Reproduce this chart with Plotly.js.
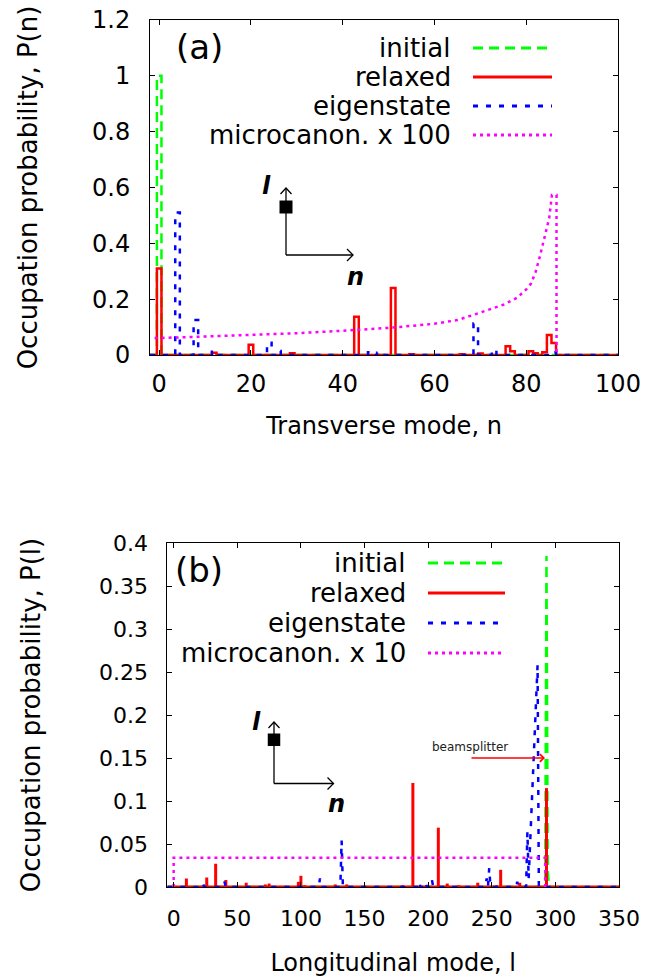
<!DOCTYPE html>
<html>
<head>
<meta charset="utf-8">
<script src="https://cdn.plot.ly/plotly-3.0.1.min.js"></script>
<style>html,body{margin:0;padding:0;background:#fff;}#chart{width:663px;height:977px;}</style>
</head>
<body>
<div id="chart"></div>
<script>
// ---------- Panel (a): transverse mode n ----------
const nInitial = [0];
const pInitialN = [1.0];
const nRelaxed = [0, 12, 20, 29, 43, 51, 55, 66, 70, 76, 77, 81, 82, 84, 85, 86];
const pRelaxedN = [0.31, 0.008, 0.037, 0.006, 0.137, 0.24, 0.003, 0.003, 0.005, 0.031, 0.013, 0.013, 0.006, 0.01, 0.072, 0.043];
const nEigen = [4, 8, 12, 24, 26, 46, 48, 69, 73, 86];
const pEigenN = [0.51, 0.125, 0.012, 0.044, 0.014, 0.01, 0.008, 0.113, 0.018, 0.01];
const nMicro = [-1, 0, 10, 20, 30, 40, 50, 60, 65, 70, 75, 78, 80, 81, 82, 83, 84, 85, 85.6, 86.6, 86.6];
const pMicroN = [0.060, 0.061, 0.066, 0.071, 0.078, 0.087, 0.097, 0.112, 0.125, 0.152, 0.180, 0.205, 0.235, 0.255, 0.295, 0.355, 0.42, 0.49, 0.573, 0.573, 0];
const nTicks = [0, 20, 40, 60, 80, 100];

// ---------- Panel (b): longitudinal mode l ----------
const lInitial = [-5, 292, 293, 294, 295, 350];
const pInitialL = [0, 0, 0.385, 0.018, 0, 0];
const lRelaxed = [10, 26, 33, 41, 57, 72, 75, 98, 100, 103, 127, 136, 180, 188, 208, 215, 224, 239, 254, 257, 272, 293];
const pRelaxedL = [0.010, 0.011, 0.027, 0.008, 0.005, 0.003, 0.004, 0.006, 0.013, 0.002, 0.003, 0.003, 0.002, 0.121, 0.069, 0.004, 0.002, 0.005, 0.002, 0.020, 0.005, 0.115];
const lEigen = [-5, 22, 23, 24, 39, 40, 41, 114, 115, 116, 131, 132, 133, 192, 193, 194, 197, 198, 199, 202, 203, 204, 245, 246, 247, 248, 249, 269, 270, 271, 277, 278, 279, 286, 287, 350];
const pEigenL = [0, 0, 0.004, 0, 0, 0.006, 0, 0, 0.010, 0, 0, 0.054, 0, 0, 0.006, 0, 0, 0.005, 0, 0, 0.008, 0, 0, 0.010, 0, 0.022, 0, 0, 0.006, 0, 0, 0.064, 0.010, 0.258, 0, 0];
const lMicro = [0, 0, 292, 292];
const pMicroL = [0, 0.034, 0.034, 0];
const lTicks = [0, 50, 100, 150, 200, 250, 300, 350];

// ---------- helpers ----------
const W = 663, H = 977;
const px = x => x / W;
const py = y => 1 - y / H;
const FONT = 'DejaVu Sans, Liberation Sans, Arial, sans-serif';
const C = {init: '#00ff00', rel: '#ff0000', eig: '#0000ff', mic: '#ff00ff'};
const DASH = {init: '10px,6px', rel: 'solid', eig: '5px,8px', mic: '3px,4px'};

function histSeries(ns, ps, nMin, nMax) {
  const m = {};
  ns.forEach((n, i) => { m[n] = ps[i]; });
  const xs = [], ys = [];
  for (let n = nMin; n <= nMax; n++) { xs.push(n); ys.push(m[n] !== undefined ? m[n] : 0); }
  return {x: xs, y: ys};
}
function impulses(ls, ps, base) {
  const x = [base[0], base[1], null], y = [0, 0, null];
  ls.forEach((l, i) => { x.push(l, l, null); y.push(0, ps[i], null); });
  return {x, y};
}

const X1 = [-2, 100], X2 = [-5, 350];
const hInit = histSeries(nInitial, pInitialN, -2, 100);
const hRel = histSeries(nRelaxed, pRelaxedN, -2, 100);
const hEig = histSeries(nEigen, pEigenN, -2, 100);
const impRel = impulses(lRelaxed, pRelaxedL, X2);

const traces = [
  {x: hInit.x, y: hInit.y, type: 'scatter', mode: 'lines', line: {shape: 'hvh', color: C.init, width: 2.5, dash: DASH.init}, name: 'initial', xaxis: 'x', yaxis: 'y'},
  {x: hRel.x, y: hRel.y, type: 'scatter', mode: 'lines', line: {shape: 'hvh', color: C.rel, width: 2.5}, name: 'relaxed', xaxis: 'x', yaxis: 'y'},
  {x: hEig.x, y: hEig.y, type: 'scatter', mode: 'lines', line: {shape: 'hvh', color: C.eig, width: 2.5, dash: DASH.eig}, name: 'eigenstate', xaxis: 'x', yaxis: 'y'},
  {x: nMicro, y: pMicroN, type: 'scatter', mode: 'lines', line: {color: C.mic, width: 2.5, dash: DASH.mic}, name: 'microcanon. x 100', xaxis: 'x', yaxis: 'y'},

  {x: lInitial, y: pInitialL, type: 'scatter', mode: 'lines', line: {color: C.init, width: 2.5, dash: DASH.init}, name: 'initial', xaxis: 'x2', yaxis: 'y2'},
  {x: impRel.x, y: impRel.y, type: 'scatter', mode: 'lines', connectgaps: false, line: {color: C.rel, width: 3}, name: 'relaxed', xaxis: 'x2', yaxis: 'y2'},
  {x: lEigen, y: pEigenL, type: 'scatter', mode: 'lines', line: {color: C.eig, width: 2.5, dash: DASH.eig}, name: 'eigenstate', xaxis: 'x2', yaxis: 'y2'},
  {x: lMicro, y: pMicroL, type: 'scatter', mode: 'lines', line: {color: C.mic, width: 2.5, dash: DASH.mic}, name: 'microcanon. x 10', xaxis: 'x2', yaxis: 'y2'}
];

const axisCommon = {
  showline: true, linecolor: '#000', linewidth: 1, mirror: 'allticks',
  ticks: 'inside', ticklen: 5, tickcolor: '#000', tickwidth: 1,
  showgrid: false, zeroline: false, fixedrange: true
};

const layout = {
  width: W, height: H,
  margin: {l: 0, r: 0, t: 0, b: 0},
  paper_bgcolor: '#fff', plot_bgcolor: '#fff',
  showlegend: false,
  font: {family: FONT, color: '#000'},
  xaxis: Object.assign({}, axisCommon, {
    domain: [px(150), px(618)], anchor: 'y', range: X1,
    tickvals: nTicks, ticktext: nTicks.map(String),
    tickfont: {size: 24}, ticklabelstandoff: 7,
    title: {text: 'Transverse mode, n', font: {size: 24}, standoff: 20}
  }),
  yaxis: Object.assign({}, axisCommon, {
    domain: [py(355), py(20)], anchor: 'x', range: [0, 1.2], dtick: 0.2, tick0: 0,
    tickfont: {size: 24}, ticklabelstandoff: 14,
    title: {text: 'Occupation probability, P(n)', font: {size: 26}, standoff: 46}
  }),
  xaxis2: Object.assign({}, axisCommon, {
    domain: [px(167.3), px(619)], anchor: 'y2', range: X2,
    tickvals: lTicks, ticktext: lTicks.map(String),
    tickfont: {size: 22}, ticklabelstandoff: 12,
    title: {text: 'Longitudinal mode, l', font: {size: 24}, standoff: 23}
  }),
  yaxis2: Object.assign({}, axisCommon, {
    domain: [py(887), py(543)], anchor: 'x2', range: [0, 0.4], dtick: 0.05, tick0: 0,
    tickfont: {size: 22}, ticklabelstandoff: 14,
    title: {text: 'Occupation probability, P(l)', font: {size: 26}, standoff: 50}
  }),
  shapes: [],
  annotations: []
};

// manual legends (text right-aligned, sample line on the right)
const legendA = {labels: ['initial', 'relaxed', 'eigenstate', 'microcanon. x 100'], textRight: 453, x0: 473, x1: 552, rows: [48, 77, 106, 135]};
const legendB = {labels: ['initial', 'relaxed', 'eigenstate', 'microcanon. x 10'], textRight: 408, x0: 428, x1: 505, rows: [563, 593, 623, 653]};
const keys = ['init', 'rel', 'eig', 'mic'];
[legendA, legendB].forEach(lg => {
  lg.labels.forEach((t, i) => {
    layout.annotations.push({xref: 'paper', yref: 'paper', x: px(lg.textRight), y: py(lg.rows[i]), text: t, showarrow: false, xanchor: 'right', yanchor: 'middle', font: {size: 26, family: FONT}});
    layout.shapes.push({type: 'line', xref: 'paper', yref: 'paper', x0: px(lg.x0), x1: px(lg.x1), y0: py(lg.rows[i]), y1: py(lg.rows[i]), line: {color: C[keys[i]], width: 3, dash: DASH[keys[i]]}});
  });
});

// panel labels
layout.annotations.push({xref: 'paper', yref: 'paper', x: px(199), y: py(47), text: '(a)', showarrow: false, xanchor: 'center', yanchor: 'middle', font: {size: 34}});
layout.annotations.push({xref: 'paper', yref: 'paper', x: px(199), y: py(570), text: '(b)', showarrow: false, xanchor: 'center', yanchor: 'middle', font: {size: 34}});

// inset coordinate sketches (decoration)
const blk = {color: '#000', width: 1.3};
function drawSketch(cx, top, cornerY, right, size, sqTop, lPos, nPos) {
  layout.shapes.push({type: 'line', xref: 'paper', yref: 'paper', x0: px(cx), x1: px(cx), y0: py(top + 1), y1: py(cornerY), line: blk});
  layout.shapes.push({type: 'line', xref: 'paper', yref: 'paper', x0: px(cx), x1: px(right), y0: py(cornerY), y1: py(cornerY), line: blk});
  layout.shapes.push({type: 'path', xref: 'paper', yref: 'paper', path: `M ${px(cx - 5.5)} ${py(top + 6)} L ${px(cx)} ${py(top)} L ${px(cx + 5.5)} ${py(top + 6)}`, line: blk});
  layout.shapes.push({type: 'path', xref: 'paper', yref: 'paper', path: `M ${px(right - 6)} ${py(cornerY - 6)} L ${px(right)} ${py(cornerY)} L ${px(right - 6)} ${py(cornerY + 6)}`, line: blk});
  layout.shapes.push({type: 'rect', xref: 'paper', yref: 'paper', x0: px(cx - size / 2), x1: px(cx + size / 2), y0: py(sqTop + size), y1: py(sqTop), fillcolor: '#000', line: {width: 0}});
  layout.annotations.push({xref: 'paper', yref: 'paper', x: px(lPos[0]), y: py(lPos[1]), text: '<b><i>l</i></b>', showarrow: false, xanchor: 'center', yanchor: 'middle', font: {size: 24}});
  layout.annotations.push({xref: 'paper', yref: 'paper', x: px(nPos[0]), y: py(nPos[1]), text: '<b><i>n</i></b>', showarrow: false, xanchor: 'center', yanchor: 'middle', font: {size: 24}});
}
drawSketch(286, 188, 255, 353, 13, 200.5, [266.7, 186], [355.5, 277]);
drawSketch(274, 722, 783.5, 333.5, 12.5, 733.5, [256.7, 722], [336.7, 804]);

// beamsplitter arrow
layout.annotations.push({xref: 'paper', yref: 'paper', x: px(545), y: py(758), ax: -75, ay: 0, text: '', showarrow: true, arrowhead: 4, arrowsize: 1, arrowwidth: 1.5, arrowcolor: '#ff0000'});
layout.annotations.push({xref: 'paper', yref: 'paper', x: px(470), y: py(747), text: 'beamsplitter', showarrow: false, xanchor: 'center', yanchor: 'middle', font: {size: 12, color: '#222'}});

Plotly.newPlot('chart', traces, layout, {staticPlot: true, displayModeBar: false});
</script>
</body>
</html>
